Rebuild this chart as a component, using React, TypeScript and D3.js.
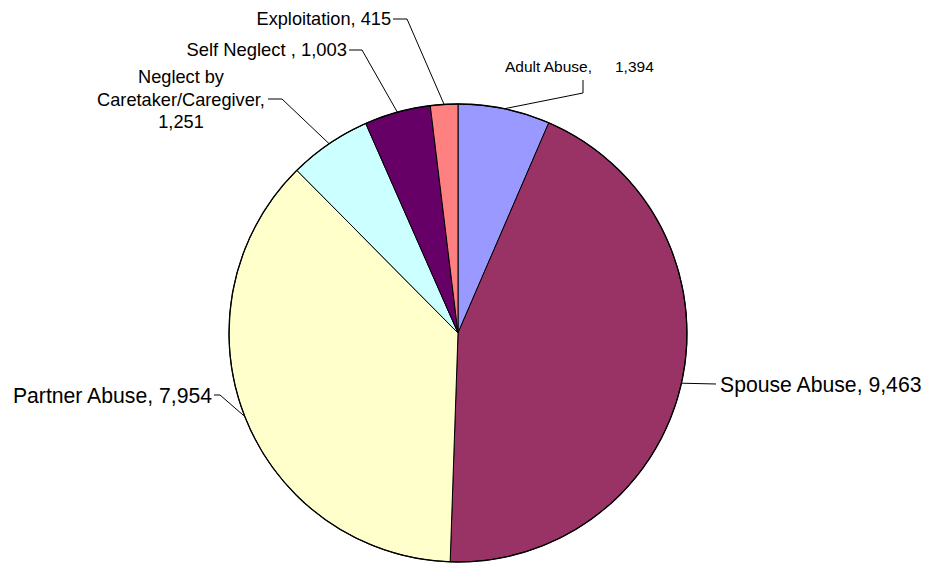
import React from "react";
import * as d3 from "d3";

const categories = [
  "Adult Abuse",
  "Spouse Abuse",
  "Partner Abuse",
  "Neglect by Caretaker/Caregiver",
  "Self Neglect",
  "Exploitation",
];
const values = [1394, 9463, 7954, 1251, 1003, 415];
const labelLines = [
  ["Adult Abuse,", "1,394"],
  ["Spouse Abuse, 9,463"],
  ["Partner Abuse, 7,954"],
  ["Neglect by", "Caretaker/Caregiver,", "1,251"],
  ["Self Neglect , 1,003"],
  ["Exploitation, 415"],
];
const colors = ["#9999FF", "#993366", "#FFFFCC", "#CCFFFF", "#660066", "#FF8080"];

// layout for labels (positions only)
const layout = [
  { knee: [[583, 93], [583, 80]], tx: [505, 615], ty: [72, 72], anchor: "start", size: 15.5 },
  { knee: [[716, 384]], tx: [720], ty: [392], anchor: "start", size: 21.2 },
  { knee: [[220, 395], [214, 395]], tx: [212], ty: [403], anchor: "end", size: 21.2 },
  { knee: [[282, 99], [268, 99]], tx: [181, 181, 181], ty: [83, 105.5, 128], anchor: "middle", size: 18.2 },
  { knee: [[362, 50], [349, 50]], tx: [347], ty: [56], anchor: "end", size: 18.4 },
  { knee: [[407, 19], [393, 19]], tx: [391], ty: [25], anchor: "end", size: 18.2 },
];

const W = 930;
const H = 563;
const cx = 458;
const cy = 333;
const R = 229;

export default function App() {
  const pie = d3
    .pie<number>()
    .sort(null)
    .value((d) => d)
    .startAngle(0)
    .endAngle(2 * Math.PI);
  const arcs = pie(values);
  const arc = d3.arc<d3.PieArcDatum<number>>().innerRadius(0).outerRadius(R);

  return (
    <svg
      width={W}
      height={H}
      style={{ position: "absolute", left: 0, top: 0, fontFamily: "'Liberation Sans', Arial, sans-serif" }}
    >
      <rect width={W} height={H} fill="#fff" />
      <g transform={`translate(${cx},${cy})`}>
        {arcs.map((a, i) => (
          <path key={categories[i]} d={arc(a) || ""} fill={colors[i]} stroke="#000" strokeWidth={1} />
        ))}
        <circle r={R} fill="none" stroke="#000" strokeWidth={1.3} />
      </g>
      {arcs.map((a, i) => {
        const mid = (a.startAngle + a.endAngle) / 2;
        const ex = cx + R * Math.sin(mid);
        const ey = cy - R * Math.cos(mid);
        const L = layout[i];
        const pts = [[ex, ey], ...L.knee];
        const line = d3.line()(pts as [number, number][]) || "";
        return (
          <g key={"lbl" + i}>
            <path d={line} fill="none" stroke="#000" strokeWidth={1} />
            {labelLines[i].map((t, j) => (
              <text
                key={j}
                x={L.tx[j]}
                y={L.ty[j]}
                fontSize={L.size}
                textAnchor={L.anchor as any}
                fill="#000"
              >
                {t}
              </text>
            ))}
          </g>
        );
      })}
    </svg>
  );
}
